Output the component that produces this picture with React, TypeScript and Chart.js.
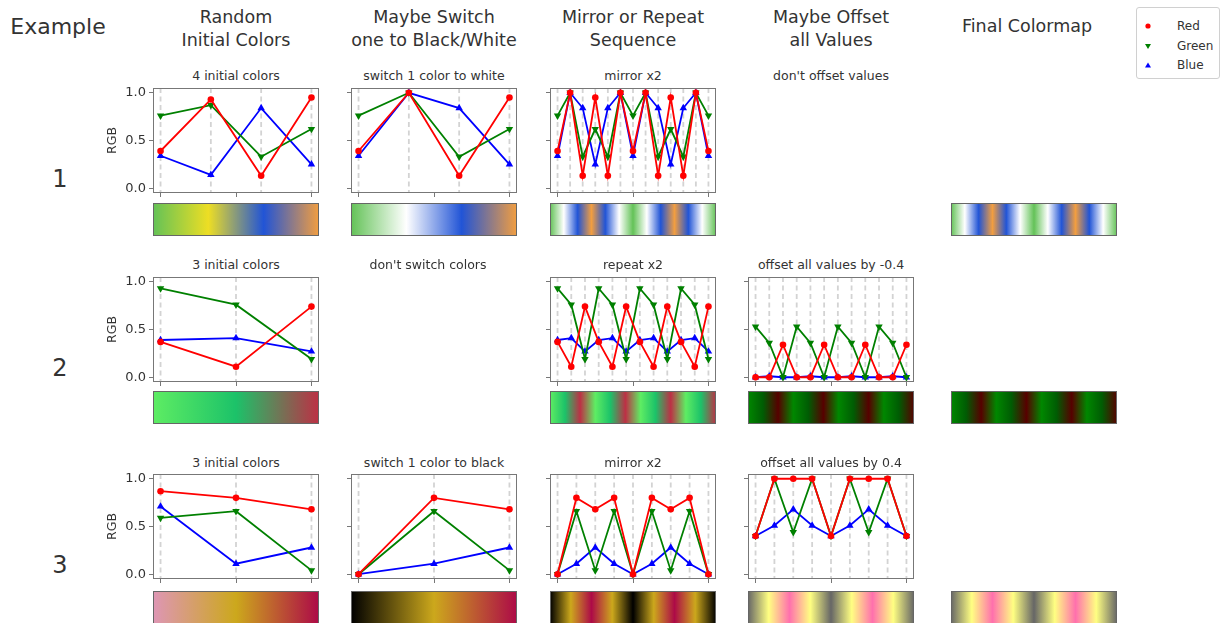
import React, { useEffect, useRef } from 'react';
import { Chart, registerables } from 'chart.js';

Chart.register(...registerables);
Chart.defaults.font.family = "'DejaVu Sans', sans-serif";

// ---- Example 1: four random colours ----
const ex1InitRed = [0.39, 0.93, 0.13, 0.95];
const ex1InitGreen = [0.76, 0.87, 0.33, 0.62];
const ex1InitBlue = [0.34, 0.14, 0.84, 0.25];

const ex1SwitchRed = [0.39, 1.0, 0.13, 0.95];
const ex1SwitchGreen = [0.76, 1.0, 0.33, 0.62];
const ex1SwitchBlue = [0.34, 1.0, 0.84, 0.25];

const ex1MirrorRed = [0.39, 1.0, 0.13, 0.95, 0.13, 1.0, 0.39, 1.0, 0.13, 0.95, 0.13, 1.0, 0.39];
const ex1MirrorGreen = [0.76, 1.0, 0.33, 0.62, 0.33, 1.0, 0.76, 1.0, 0.33, 0.62, 0.33, 1.0, 0.76];
const ex1MirrorBlue = [0.34, 1.0, 0.84, 0.25, 0.84, 1.0, 0.34, 1.0, 0.84, 0.25, 0.84, 1.0, 0.34];

// ---- Example 2: three random colours ----
const ex2InitRed = [0.37, 0.11, 0.74];
const ex2InitGreen = [0.93, 0.76, 0.19];
const ex2InitBlue = [0.39, 0.41, 0.27];

const ex2RepeatRed = [0.37, 0.11, 0.74, 0.37, 0.11, 0.74, 0.37, 0.11, 0.74, 0.37, 0.11, 0.74];
const ex2RepeatGreen = [0.93, 0.76, 0.19, 0.93, 0.76, 0.19, 0.93, 0.76, 0.19, 0.93, 0.76, 0.19];
const ex2RepeatBlue = [0.39, 0.41, 0.27, 0.39, 0.41, 0.27, 0.39, 0.41, 0.27, 0.39, 0.41, 0.27];

const ex2OffsetRed = [0.0, 0.0, 0.34, 0.0, 0.0, 0.34, 0.0, 0.0, 0.34, 0.0, 0.0, 0.34];
const ex2OffsetGreen = [0.53, 0.36, 0.0, 0.53, 0.36, 0.0, 0.53, 0.36, 0.0, 0.53, 0.36, 0.0];
const ex2OffsetBlue = [0.0, 0.01, 0.0, 0.0, 0.01, 0.0, 0.0, 0.01, 0.0, 0.0, 0.01, 0.0];

// ---- Example 3: three random colours ----
const ex3InitRed = [0.87, 0.8, 0.68];
const ex3InitGreen = [0.59, 0.66, 0.04];
const ex3InitBlue = [0.71, 0.11, 0.28];

const ex3SwitchRed = [0.0, 0.8, 0.68];
const ex3SwitchGreen = [0.0, 0.66, 0.04];
const ex3SwitchBlue = [0.0, 0.11, 0.28];

const ex3MirrorRed = [0.0, 0.8, 0.68, 0.8, 0.0, 0.8, 0.68, 0.8, 0.0];
const ex3MirrorGreen = [0.0, 0.66, 0.04, 0.66, 0.0, 0.66, 0.04, 0.66, 0.0];
const ex3MirrorBlue = [0.0, 0.11, 0.28, 0.11, 0.0, 0.11, 0.28, 0.11, 0.0];

const ex3OffsetRed = [0.4, 1.0, 1.0, 1.0, 0.4, 1.0, 1.0, 1.0, 0.4];
const ex3OffsetGreen = [0.4, 1.0, 0.44, 1.0, 0.4, 1.0, 0.44, 1.0, 0.4];
const ex3OffsetBlue = [0.4, 0.51, 0.68, 0.51, 0.4, 0.51, 0.68, 0.51, 0.4];

// ---- text ----
const columnHeaders = [
  ['Random', 'Initial Colors'],
  ['Maybe Switch', 'one to Black/White'],
  ['Mirror or Repeat', 'Sequence'],
  ['Maybe Offset', 'all Values'],
];
const finalHeader = 'Final Colormap';
const rowLabels = ['1', '2', '3'];
const yTickValues = [0, 0.5, 1];
const xTickValues = [0, 0.5, 1];

type RGB = { red: number[]; green: number[]; blue: number[] };

const seriesStyles = [
  { key: 'red' as const, label: 'Red', color: '#ff0000', pointStyle: 'circle', radius: 3.3, rotation: 0 },
  { key: 'green' as const, label: 'Green', color: '#008000', pointStyle: 'triangle', radius: 4.3, rotation: 180 },
  { key: 'blue' as const, label: 'Blue', color: '#0000ff', pointStyle: 'triangle', radius: 4.3, rotation: 0 },
];

// ---- layout (pixels) ----
const COL_LEFT = [153, 351, 550, 748];
const FINAL_LEFT = 951;
const PANEL_W = 166;
const PANEL_H = 105;
const ROW_TOP = [88, 277, 474];
const BAR_TOP = [203, 391, 591];
const BAR_H = 33;
const TITLE_Y = [76, 265, 463];
const AXIS_W = 48;
const AXIS_H = 8;
const PAD = 3;

const TEXT = '#333333';
const SPINE = '#777777';
const GUIDE = '#d3d3d3';

type Cell = { title: string; data?: RGB; titleX?: number };

const grid: Cell[][] = [
  [
    { title: '4 initial colors', data: { red: ex1InitRed, green: ex1InitGreen, blue: ex1InitBlue } },
    { title: 'switch 1 color to white', data: { red: ex1SwitchRed, green: ex1SwitchGreen, blue: ex1SwitchBlue } },
    { title: 'mirror x2', data: { red: ex1MirrorRed, green: ex1MirrorGreen, blue: ex1MirrorBlue } },
    { title: "don't offset values" },
  ],
  [
    { title: '3 initial colors', data: { red: ex2InitRed, green: ex2InitGreen, blue: ex2InitBlue } },
    { title: "don't switch colors", titleX: 428 },
    { title: 'repeat x2', data: { red: ex2RepeatRed, green: ex2RepeatGreen, blue: ex2RepeatBlue } },
    { title: 'offset all values by -0.4', data: { red: ex2OffsetRed, green: ex2OffsetGreen, blue: ex2OffsetBlue } },
  ],
  [
    { title: '3 initial colors', data: { red: ex3InitRed, green: ex3InitGreen, blue: ex3InitBlue } },
    { title: 'switch 1 color to black', data: { red: ex3SwitchRed, green: ex3SwitchGreen, blue: ex3SwitchBlue } },
    { title: 'mirror x2', data: { red: ex3MirrorRed, green: ex3MirrorGreen, blue: ex3MirrorBlue } },
    { title: 'offset all values by 0.4', data: { red: ex3OffsetRed, green: ex3OffsetGreen, blue: ex3OffsetBlue } },
  ],
];

const finalMaps: RGB[] = [
  { red: ex1MirrorRed, green: ex1MirrorGreen, blue: ex1MirrorBlue },
  { red: ex2OffsetRed, green: ex2OffsetGreen, blue: ex2OffsetBlue },
  { red: ex3OffsetRed, green: ex3OffsetGreen, blue: ex3OffsetBlue },
];

const toPoints = (vals: number[]) =>
  vals.map((v, i) => ({ x: vals.length > 1 ? i / (vals.length - 1) : 0, y: v }));

const fixedTicks = (values: number[]) => (scale: any) => {
  scale.ticks = values.map((value) => ({ value }));
};

// dashed vertical guide at every sample position
const guidePlugin = {
  id: 'sampleGuides',
  beforeDatasetsDraw(chart: any) {
    const { ctx, chartArea } = chart;
    const xs = chart.scales.x;
    ctx.save();
    ctx.strokeStyle = GUIDE;
    ctx.lineWidth = 1.8;
    ctx.setLineDash([5, 3.5]);
    for (const p of chart.data.datasets[0].data) {
      const px = xs.getPixelForValue(p.x);
      ctx.beginPath();
      ctx.moveTo(px, chartArea.top);
      ctx.lineTo(px, chartArea.bottom);
      ctx.stroke();
    }
    ctx.restore();
  },
};

const makeFramePlugin = (color: string) => ({
  id: 'frame',
  afterDraw(chart: any) {
    const { ctx, chartArea } = chart;
    ctx.save();
    ctx.strokeStyle = color;
    ctx.lineWidth = 1;
    ctx.strokeRect(
      Math.round(chartArea.left) + 0.5,
      Math.round(chartArea.top) + 0.5,
      Math.round(chartArea.right - chartArea.left) - 1,
      Math.round(chartArea.bottom - chartArea.top) - 1
    );
    ctx.restore();
  },
});

function LinePanel({ data, left, top, showY }: { data: RGB; left: number; top: number; showY: boolean }) {
  const ref = useRef<HTMLCanvasElement>(null);
  const w = AXIS_W + PANEL_W + PAD;
  const h = PAD + PANEL_H + AXIS_H;
  useEffect(() => {
    const gridOpts = { drawOnChartArea: false, drawTicks: true, tickLength: 4, color: SPINE, lineWidth: 1 };
    const chart = new Chart(ref.current as HTMLCanvasElement, {
      type: 'line',
      data: {
        datasets: seriesStyles.map((st) => ({
          label: st.label,
          data: toPoints(data[st.key]),
          borderColor: st.color,
          backgroundColor: st.color,
          borderWidth: 1.8,
          pointStyle: st.pointStyle as any,
          pointRadius: st.radius,
          pointRotation: st.rotation,
          pointBorderWidth: 0,
          tension: 0,
          fill: false,
        })),
      },
      options: {
        responsive: false,
        animation: false,
        devicePixelRatio: 1,
        events: [],
        layout: { padding: { top: PAD, right: PAD, left: 0, bottom: 0 }, autoPadding: false } as any,
        plugins: { legend: { display: false }, tooltip: { enabled: false } },
        scales: {
          x: {
            type: 'linear',
            min: -0.05,
            max: 1.05,
            afterBuildTicks: fixedTicks(xTickValues),
            afterFit: (s: any) => {
              s.height = AXIS_H;
              s.paddingLeft = 0;
              s.paddingRight = 0;
            },
            ticks: { callback: () => '', padding: 0, autoSkip: false, maxRotation: 0 },
            grid: gridOpts,
            border: { display: false },
          },
          y: {
            type: 'linear',
            min: -0.05,
            max: 1.05,
            afterBuildTicks: fixedTicks(yTickValues),
            afterFit: (s: any) => {
              s.width = AXIS_W;
              s.paddingTop = 0;
              s.paddingBottom = 0;
            },
            ticks: {
              callback: (v: any) => (showY ? Number(v).toFixed(1) : ''),
              color: TEXT,
              font: { size: 13 },
              padding: 3,
              autoSkip: false,
            },
            title: { display: showY, text: 'RGB', color: TEXT, font: { size: 12.5 }, padding: 0 },
            grid: gridOpts,
            border: { display: false },
          },
        },
      },
      plugins: [guidePlugin, makeFramePlugin(SPINE)],
    });
    return () => chart.destroy();
  }, []);
  return (
    <canvas
      ref={ref}
      width={w}
      height={h}
      style={{ position: 'absolute', left: left - AXIS_W, top: top - PAD, width: w, height: h }}
    />
  );
}

function ColorBar({ data, left, top }: { data: RGB; left: number; top: number }) {
  const ref = useRef<HTMLCanvasElement>(null);
  const w = PANEL_W;
  const h = BAR_H;
  useEffect(() => {
    const n = data.red.length;
    const chart = new Chart(ref.current as HTMLCanvasElement, {
      type: 'line',
      data: {
        datasets: [
          {
            data: [
              { x: 0, y: 1 },
              { x: 1, y: 1 },
            ],
            borderWidth: 0,
            pointRadius: 0,
            fill: 'start',
            backgroundColor: (c: any) => {
              const ch = c.chart;
              if (!ch.chartArea || !ch.scales.x) return 'rgba(0,0,0,0)';
              const xs = ch.scales.x;
              const g = ch.ctx.createLinearGradient(xs.getPixelForValue(0), 0, xs.getPixelForValue(1), 0);
              for (let i = 0; i < n; i++) {
                const r = Math.round(data.red[i] * 255);
                const gg = Math.round(data.green[i] * 255);
                const b = Math.round(data.blue[i] * 255);
                g.addColorStop(n > 1 ? i / (n - 1) : 0, `rgb(${r},${gg},${b})`);
              }
              return g;
            },
          },
        ],
      },
      options: {
        responsive: false,
        animation: false,
        devicePixelRatio: 1,
        events: [],
        layout: { padding: 0, autoPadding: false } as any,
        plugins: { legend: { display: false }, tooltip: { enabled: false } },
        scales: {
          x: { type: 'linear', min: 0, max: 1, display: false },
          y: { type: 'linear', min: 0, max: 1, display: false },
        },
      },
      plugins: [makeFramePlugin('#666666')],
    });
    return () => chart.destroy();
  }, []);
  return (
    <canvas
      ref={ref}
      width={w}
      height={h}
      style={{ position: 'absolute', left, top, width: w, height: h }}
    />
  );
}

function Label({ x, y, size, children }: { x: number; y: number; size: number; children: React.ReactNode }) {
  return (
    <div
      style={{
        position: 'absolute',
        left: x,
        top: y,
        transform: 'translate(-50%, -50%)',
        fontSize: size,
        lineHeight: 1,
        whiteSpace: 'nowrap',
        color: TEXT,
      }}
    >
      {children}
    </div>
  );
}

function LegendMarker({ kind, color }: { kind: string; color: string }) {
  return (
    <svg width={10} height={10} style={{ position: 'absolute', left: -5, top: -5 }}>
      {kind === 'circle' && <circle cx={5} cy={5} r={2.6} fill={color} />}
      {kind === 'down' && <polygon points="2,3 8,3 5,8" fill={color} />}
      {kind === 'up' && <polygon points="2,7.5 8,7.5 5,2.5" fill={color} />}
    </svg>
  );
}

export default function App() {
  const legendItems = [
    { label: seriesStyles[0].label, color: seriesStyles[0].color, kind: 'circle', y: 26 },
    { label: seriesStyles[1].label, color: seriesStyles[1].color, kind: 'down', y: 46 },
    { label: seriesStyles[2].label, color: seriesStyles[2].color, kind: 'up', y: 65 },
  ];
  return (
    <div
      style={{
        position: 'fixed',
        left: 0,
        top: 0,
        width: 1220,
        height: 623,
        overflow: 'hidden',
        background: '#ffffff',
        fontFamily: "'DejaVu Sans', sans-serif",
      }}
    >
      <Label x={58} y={27} size={22}>
        Example
      </Label>
      {columnHeaders.map((lines, c) => (
        <React.Fragment key={c}>
          <Label x={COL_LEFT[c] + PANEL_W / 2} y={18} size={17.5}>
            {lines[0]}
          </Label>
          <Label x={COL_LEFT[c] + PANEL_W / 2} y={41} size={17.5}>
            {lines[1]}
          </Label>
        </React.Fragment>
      ))}
      <Label x={1027} y={27} size={17.5}>
        {finalHeader}
      </Label>
      {rowLabels.map((t, r) => (
        <Label key={t} x={60} y={ROW_TOP[r] + 91} size={24}>
          {t}
        </Label>
      ))}
      {grid.map((row, r) =>
        row.map((cell, c) => (
          <React.Fragment key={`${r}-${c}`}>
            <Label x={cell.titleX ?? COL_LEFT[c] + PANEL_W / 2} y={TITLE_Y[r]} size={12.5}>
              {cell.title}
            </Label>
            {cell.data && (
              <>
                <LinePanel data={cell.data} left={COL_LEFT[c]} top={ROW_TOP[r]} showY={c === 0} />
                <ColorBar data={cell.data} left={COL_LEFT[c]} top={BAR_TOP[r]} />
              </>
            )}
          </React.Fragment>
        ))
      )}
      {finalMaps.map((m, r) => (
        <ColorBar key={r} data={m} left={FINAL_LEFT} top={BAR_TOP[r]} />
      ))}
      <div
        style={{
          position: 'absolute',
          left: 1136,
          top: 7,
          width: 84,
          height: 72,
          border: '1px solid #d0d0d0',
          borderRadius: 3,
          boxSizing: 'border-box',
        }}
      />
      {legendItems.map((it) => (
        <React.Fragment key={it.label}>
          <div style={{ position: 'absolute', left: 1148, top: it.y }}>
            <LegendMarker kind={it.kind} color={it.color} />
          </div>
          <div
            style={{
              position: 'absolute',
              left: 1177,
              top: it.y,
              transform: 'translateY(-50%)',
              fontSize: 12,
              lineHeight: 1,
              color: TEXT,
              whiteSpace: 'nowrap',
            }}
          >
            {it.label}
          </div>
        </React.Fragment>
      ))}
    </div>
  );
}
